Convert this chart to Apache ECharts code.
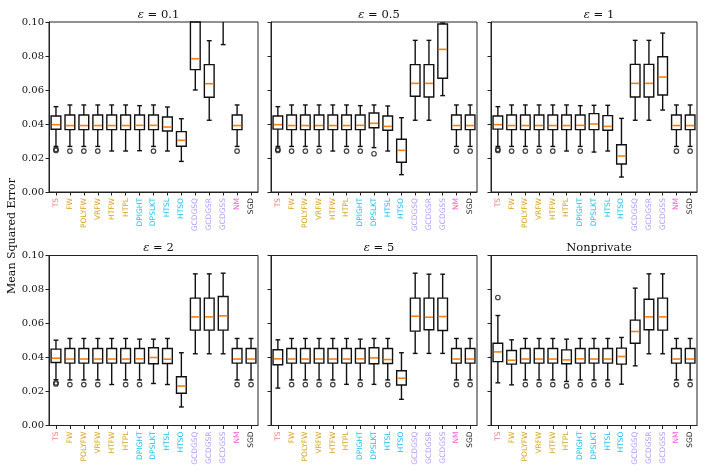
<!DOCTYPE html>
<html>
<head>
<meta charset="utf-8">
<script src="https://cdn.jsdelivr.net/npm/echarts@6/dist/echarts.min.js"></script>
<style>html,body{margin:0;padding:0;background:#fff;}#c{width:706px;height:472px;}</style>
</head>
<body>
<div id="c"></div>
<script>
const categories = ['TS','FW','POLYFW','VRFW','HTFW','HTPL','DPIGHT','DPSLKT','HTSL','HTSO','GCDGSQ','GCDGSR','GCDGSS','NM','SGD'];
const labelColors = ['#f08080','#d4a520','#d4a520','#d4a520','#d4a520','#d4a520','#1cc0f2','#1cc0f2','#1cc0f2','#1cc0f2','#ab9ff6','#ab9ff6','#ab9ff6','#f556d8','#222222'];
const panelTitles = ['0.1','0.5','1','2','5','Nonprivate'];
const yTicks = [0, 0.02, 0.04, 0.06, 0.08, 0.10];

// [min, Q1, median, Q3, max]
const boxEps01 = [
  [0.0268,0.0369,0.0396,0.0447,0.0502],[0.0268,0.0367,0.0391,0.0453,0.0512],[0.0268,0.0367,0.0391,0.0453,0.0512],
  [0.0268,0.0367,0.0391,0.0453,0.0512],[0.0241,0.0367,0.0391,0.0453,0.0512],[0.0241,0.0367,0.0391,0.0453,0.0512],
  [0.0243,0.0367,0.0392,0.0453,0.0508],[0.0268,0.0367,0.0392,0.0453,0.0512],[0.0241,0.0359,0.0382,0.0441,0.0500],
  [0.0180,0.0269,0.0304,0.0355,0.0431],[0.0600,0.0720,0.0784,0.1050,0.1300],[0.0422,0.0557,0.0637,0.0749,0.0890],
  [0.0867,0.1100,0.1300,0.1500,0.1800],[0.0268,0.0367,0.0391,0.0453,0.0512],null
];
const boxEps05 = [
  [0.0268,0.0370,0.0396,0.0447,0.0502],[0.0268,0.0367,0.0391,0.0453,0.0512],[0.0268,0.0367,0.0391,0.0453,0.0512],
  [0.0268,0.0367,0.0391,0.0453,0.0512],[0.0241,0.0367,0.0391,0.0453,0.0512],[0.0268,0.0367,0.0391,0.0453,0.0512],
  [0.0268,0.0367,0.0392,0.0453,0.0508],[0.0261,0.0378,0.0404,0.0465,0.0512],[0.0241,0.0363,0.0386,0.0447,0.0506],
  [0.0102,0.0175,0.0245,0.0310,0.0437],[0.0422,0.0563,0.0639,0.0749,0.0892],[0.0422,0.0559,0.0639,0.0749,0.0892],
  [0.0567,0.0669,0.0839,0.0988,0.0994],[0.0268,0.0367,0.0391,0.0453,0.0512],[0.0268,0.0367,0.0391,0.0453,0.0512]
];
const boxEps1 = [
  [0.0268,0.0370,0.0396,0.0447,0.0502],[0.0268,0.0367,0.0391,0.0453,0.0512],[0.0268,0.0367,0.0391,0.0453,0.0512],
  [0.0268,0.0367,0.0391,0.0453,0.0512],[0.0268,0.0367,0.0391,0.0453,0.0512],[0.0241,0.0367,0.0391,0.0453,0.0512],
  [0.0268,0.0367,0.0392,0.0453,0.0508],[0.0235,0.0367,0.0400,0.0461,0.0510],[0.0241,0.0363,0.0386,0.0449,0.0510],
  [0.0088,0.0165,0.0212,0.0278,0.0433],[0.0422,0.0559,0.0639,0.0751,0.0892],[0.0422,0.0559,0.0639,0.0751,0.0892],
  [0.0482,0.0571,0.0676,0.0796,0.0935],[0.0268,0.0367,0.0391,0.0453,0.0512],[0.0268,0.0367,0.0391,0.0453,0.0512]
];
const boxEps2 = [
  [0.0269,0.0371,0.0396,0.0449,0.0502],[0.0268,0.0367,0.0391,0.0453,0.0512],[0.0268,0.0367,0.0391,0.0453,0.0512],
  [0.0268,0.0367,0.0391,0.0453,0.0512],[0.0241,0.0367,0.0391,0.0453,0.0512],[0.0268,0.0367,0.0391,0.0453,0.0512],
  [0.0268,0.0367,0.0392,0.0453,0.0508],[0.0247,0.0363,0.0400,0.0457,0.0508],[0.0241,0.0365,0.0390,0.0453,0.0512],
  [0.0109,0.0190,0.0232,0.0287,0.0428],[0.0422,0.0561,0.0639,0.0749,0.0892],[0.0422,0.0561,0.0639,0.0749,0.0892],
  [0.0422,0.0561,0.0645,0.0759,0.0896],[0.0268,0.0367,0.0391,0.0453,0.0512],[0.0268,0.0367,0.0391,0.0453,0.0512]
];
const boxEps5 = [
  [0.0220,0.0357,0.0392,0.0446,0.0504],[0.0268,0.0367,0.0391,0.0453,0.0512],[0.0268,0.0367,0.0391,0.0453,0.0512],
  [0.0268,0.0367,0.0391,0.0453,0.0512],[0.0268,0.0367,0.0391,0.0453,0.0512],[0.0242,0.0367,0.0391,0.0453,0.0512],
  [0.0268,0.0367,0.0392,0.0453,0.0508],[0.0242,0.0363,0.0398,0.0457,0.0512],[0.0268,0.0365,0.0388,0.0453,0.0512],
  [0.0154,0.0238,0.0278,0.0322,0.0428],[0.0424,0.0555,0.0643,0.0749,0.0896],[0.0424,0.0563,0.0637,0.0749,0.0890],
  [0.0424,0.0559,0.0641,0.0749,0.0890],[0.0268,0.0367,0.0391,0.0453,0.0512],[0.0268,0.0367,0.0391,0.0453,0.0512]
];
const boxNonpriv = [
  [0.0251,0.0376,0.0433,0.0484,0.0647],[0.0239,0.0361,0.0384,0.0441,0.0504],[0.0268,0.0367,0.0391,0.0453,0.0512],
  [0.0268,0.0367,0.0391,0.0453,0.0512],[0.0268,0.0367,0.0391,0.0453,0.0512],[0.0259,0.0363,0.0386,0.0445,0.0508],
  [0.0268,0.0367,0.0392,0.0453,0.0512],[0.0268,0.0367,0.0391,0.0453,0.0512],[0.0268,0.0367,0.0391,0.0453,0.0512],
  [0.0243,0.0361,0.0406,0.0455,0.0518],[0.0351,0.0484,0.0553,0.0620,0.0808],[0.0422,0.0563,0.0639,0.0743,0.0892],
  [0.0422,0.0561,0.0639,0.0749,0.0892],[0.0268,0.0367,0.0391,0.0453,0.0512],[0.0268,0.0367,0.0391,0.0453,0.0512]
];

// outliers: [category index, value]
const outEps01 = [[0,0.0244],[0,0.0251],[1,0.0241],[2,0.0241],[3,0.0241],[7,0.0241],[13,0.0241]];
const outEps05 = [[0,0.0244],[0,0.0251],[1,0.0241],[2,0.0241],[3,0.0241],[5,0.0241],[6,0.0241],[7,0.0225],[13,0.0241],[14,0.0241]];
const outEps1 = [[0,0.0244],[0,0.0251],[1,0.0241],[2,0.0241],[3,0.0241],[4,0.0241],[6,0.0241],[13,0.0241],[14,0.0241]];
const outEps2 = [[0,0.0244],[0,0.0251],[1,0.0241],[2,0.0241],[3,0.0241],[5,0.0241],[6,0.0241],[13,0.0241],[14,0.0241]];
const outEps5 = [[1,0.0241],[2,0.0241],[3,0.0241],[4,0.0241],[6,0.0241],[8,0.0241],[13,0.0241],[14,0.0241]];
const outNonpriv = [[0,0.0753],[2,0.0241],[3,0.0241],[4,0.0241],[5,0.0233],[6,0.0241],[7,0.0241],[8,0.0241],[13,0.0241],[14,0.0241]];

const boxes = [boxEps01, boxEps05, boxEps1, boxEps2, boxEps5, boxNonpriv];
const outs = [outEps01, outEps05, outEps1, outEps2, outEps5, outNonpriv];

const gridPos = [
  {left:49, top:22, width:209, height:170},
  {left:271, top:22, width:206, height:170},
  {left:491, top:22, width:206, height:170},
  {left:49, top:255.5, width:209, height:170},
  {left:271, top:255.5, width:206, height:170},
  {left:491, top:255.5, width:206, height:170}
];

function renderBox(params, api) {
  const cs = params.coordSys;
  const top = cs.y, bot = cs.y + cs.height;
  const i = api.value(0);
  const cx = api.coord([i, 0])[0];
  const bw = api.size([1, 0])[0] * 0.7;
  const yy = k => api.coord([i, api.value(k)])[1];
  const yMin = yy(1), yQ1 = yy(2), yMed = yy(3), yQ3 = yy(4), yMax = yy(5);
  const cl = v => Math.max(top, Math.min(bot, v));
  const inR = v => v >= top - 0.3 && v <= bot + 0.3;
  const st = {stroke:'#111', lineWidth:1.4, fill:null};
  const ch = [];
  const seg = (x1,y1,x2,y2,style) => ch.push({type:'line', shape:{x1:x1,y1:y1,x2:x2,y2:y2}, style:style});
  if (Math.abs(cl(yMin) - cl(yQ1)) > 0.3) seg(cx, cl(yQ1), cx, cl(yMin), st);
  if (Math.abs(cl(yMax) - cl(yQ3)) > 0.3) seg(cx, cl(yQ3), cx, cl(yMax), st);
  if (inR(yMin)) seg(cx - bw/4, yMin, cx + bw/4, yMin, st);
  if (inR(yMax)) seg(cx - bw/4, yMax, cx + bw/4, yMax, st);
  const bt = cl(yQ3), bb = cl(yQ1);
  if (bb - bt > 0.3) {
    ch.push({type:'rect', shape:{x:cx - bw/2, y:bt, width:bw, height:bb - bt}, style:{stroke:'#111', lineWidth:1.4, fill:'rgba(0,0,0,0)'}});
  }
  if (inR(yMed)) seg(cx - bw/2 + 0.7, yMed, cx + bw/2 - 0.7, yMed, {stroke:'#ff7f0e', lineWidth:1.6});
  return {type:'group', children: ch};
}

const grids = [], xAxes = [], yAxes = [], series = [], titles = [];
for (let p = 0; p < 6; p++) {
  const g = gridPos[p];
  grids.push({left:g.left, top:g.top, width:g.width, height:g.height, show:true, borderColor:'#222', borderWidth:1, backgroundColor:'transparent'});
  xAxes.push({
    type:'category', gridIndex:p, data:categories, boundaryGap:true,
    axisLine:{show:true, lineStyle:{color:'#222', width:1}},
    axisTick:{show:true, alignWithLabel:true, length:3.5, lineStyle:{color:'#222'}},
    axisLabel:{show:true, rotate:90, fontSize:7.5, fontFamily:'DejaVu Sans', margin:6, interval:0,
      color:(v, i) => labelColors[categories.indexOf(v)]},
    splitLine:{show:false}
  });
  yAxes.push({
    type:'value', gridIndex:p, min:0, max:0.1, interval:0.02,
    axisLine:{show:true, lineStyle:{color:'#222', width:1}},
    axisTick:{show:true, length:3.5, lineStyle:{color:'#222'}},
    axisLabel:{show: p % 3 === 0, fontSize:10, fontFamily:'DejaVu Serif', color:'#111', margin:5,
      formatter: v => v.toFixed(2)},
    splitLine:{show:false}
  });
  series.push({
    type:'custom', xAxisIndex:p, yAxisIndex:p, renderItem:renderBox,
    encode:{x:0, y:[1,2,3,4,5]},
    data: boxes[p].map((b, i) => b ? [i].concat(b) : null).filter(d => d !== null),
    silent:true, animation:false
  });
  series.push({
    type:'scatter', xAxisIndex:p, yAxisIndex:p, symbol:'circle', symbolSize:4.5,
    itemStyle:{color:'rgba(0,0,0,0)', borderColor:'#111', borderWidth:1.2},
    data: outs[p], silent:true, animation:false, z:3
  });
  const t = panelTitles[p];
  titles.push({
    text: t === 'Nonprivate' ? 'Nonprivate' : '{i|ε} = ' + t,
    left: g.left + g.width / 2, top: g.top - 18, textAlign:'center',
    textStyle:{fontSize:11.5, fontWeight:'normal', fontFamily:'DejaVu Serif', color:'#111',
      rich:{i:{fontSize:11.5, fontStyle:'italic', fontFamily:'DejaVu Serif', color:'#111'}}}
  });
}

const chart = echarts.init(document.getElementById('c'), null, {renderer:'canvas'});
chart.setOption({
  animation:false,
  backgroundColor:'#fff',
  title: titles,
  grid: grids,
  xAxis: xAxes,
  yAxis: yAxes,
  series: series,
  graphic:[{
    type:'text', x:12, y:236, rotation:Math.PI/2,
    style:{text:'Mean Squared Error', font:'11px "DejaVu Serif"', fill:'#111', textAlign:'center', textVerticalAlign:'middle', align:'center', verticalAlign:'middle'}
  }]
});
</script>
</body>
</html>
